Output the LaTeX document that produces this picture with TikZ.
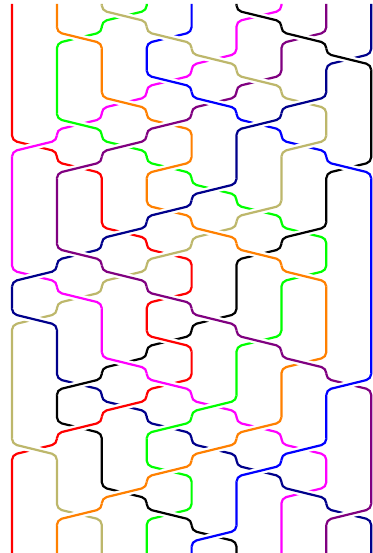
\documentclass[tikz,border=0pt]{standalone}

\definecolor{braidorange}{RGB}{255,128,0}
\definecolor{braidtan}{RGB}{189,183,107}
\definecolor{braidgreen}{RGB}{0,255,0}
\definecolor{braidmagenta}{RGB}{255,0,255}
\definecolor{braidpurple}{RGB}{128,0,128}
\definecolor{braidnavy}{RGB}{0,0,139}

\tikzset{strand/.style={line width=2.2pt, rounded corners=5pt}}

% one strand: colour, column, crossings level/from/to
\newcommand{\strandpath}[3]{%
  \draw[strand,#1] ({12+44.9*#2},4)
    \foreach \k/\a/\b in {#3}{ -- ({12+44.9*\a},{21.67*\k+10.5}) -- ({12+44.9*\b},{21.67*\k+21.5}) }
    -- ({12+44.9*#2},556);
}

\begin{document}
\begin{tikzpicture}[x=1pt,y=-1pt]
	\useasboundingbox (0,0) rectangle (372,553);

	% strands
	\strandpath{red}{0}{6/0/1,7/1/2,10/2/3,11/3/4,13/4/3,15/3/4,17/4/3,18/3/2,19/2/1,20/1/0}
	\strandpath{braidorange}{1}{1/1/2,4/2/3,5/3/4,7/4/3,9/3/4,10/4/5,11/5/6,12/6/7,16/7/6,19/6/5,20/5/4,21/4/3,22/3/2,23/2/1}
	\strandpath{braidtan}{2}{0/2/3,1/3/4,2/4/5,3/5/6,4/6/7,6/7/6,9/6/5,10/5/4,11/4/3,12/3/2,13/2/1,14/1/0,20/0/1,23/1/2}
	\strandpath{braidgreen}{3}{0/3/2,1/2/1,5/1/2,6/2/3,7/3/4,8/4/5,9/5/6,10/6/7,12/7/6,15/6/5,18/5/4,19/4/3,21/3/4,23/4/3}
	\strandpath{blue}{4}{1/4/3,3/3/4,4/4/5,5/5/6,6/6/7,7/7/8,17/8/7,20/7/6,21/6/5,24/5/4}
	\strandpath{black}{5}{0/5/6,1/6/7,2/7/8,7/8/7,10/7/6,11/6/5,14/5/4,15/4/3,16/3/2,17/2/1,19/1/2,22/2/3,23/3/4,24/4/5}
	\strandpath{braidmagenta}{6}{0/6/5,2/5/4,3/4/3,4/3/2,5/2/1,6/1/0,12/0/1,13/1/2,16/2/3,17/3/4,18/4/5,19/5/6,20/6/7,22/7/6}
	\strandpath{braidpurple}{7}{1/7/6,3/6/5,4/5/4,5/4/3,6/3/2,7/2/1,11/1/2,12/2/3,13/3/4,14/4/5,15/5/6,16/6/7,17/7/8,23/8/7}
	\strandpath{braidnavy}{8}{2/8/7,4/7/6,5/6/5,8/5/4,9/4/3,10/3/2,11/2/1,12/1/0,14/0/1,17/1/2,18/2/3,19/3/4,20/4/5,21/5/6,22/6/7,23/7/8}

	% over strands at the crossings
	\foreach \k/\a/\b/\c in {0/2/3/braidtan,0/5/6/black,
		1/1/2/braidorange,1/3/4/braidtan,1/6/7/black,
		2/4/5/braidtan,2/7/8/black,
		3/3/4/blue,3/5/6/braidtan,
		4/2/3/braidorange,4/4/5/blue,4/7/6/braidnavy,
		5/1/2/braidgreen,5/4/3/braidpurple,5/6/5/braidnavy,
		6/1/0/braidmagenta,6/3/2/braidpurple,6/7/6/braidtan,
		7/2/1/braidpurple,7/4/3/braidorange,7/7/8/blue,
		8/5/4/braidnavy,
		9/4/3/braidnavy,9/6/5/braidtan,
		10/3/2/braidnavy,10/4/5/braidorange,10/7/6/black,
		11/1/2/braidpurple,11/4/3/braidtan,11/5/6/braidorange,
		12/1/0/braidnavy,12/2/3/braidpurple,12/6/7/braidorange,
		13/1/2/braidmagenta,13/3/4/braidpurple,
		14/0/1/braidnavy,14/4/5/braidpurple,
		15/3/4/red,15/5/6/braidpurple,
		16/2/3/braidmagenta,16/6/7/braidpurple,
		17/2/1/black,17/3/4/braidmagenta,17/8/7/blue,
		18/3/2/red,18/5/4/braidgreen,
		19/2/1/red,19/4/3/braidgreen,19/6/5/braidorange,
		20/0/1/braidtan,20/5/4/braidorange,20/7/6/blue,
		21/4/3/braidorange,21/6/5/blue,
		22/3/2/braidorange,22/6/7/braidnavy,
		23/2/1/braidorange,23/3/4/black,23/8/7/braidpurple,
		24/5/4/blue}{
		\draw[strand,white,line width=7pt] ({12+44.9*\a},{21.67*\k+5.5}) -- ({12+44.9*\a},{21.67*\k+10.5})
			-- ({12+44.9*\b},{21.67*\k+21.5}) -- ({12+44.9*\b},{21.67*\k+26.5});
		\draw[strand,\c] ({12+44.9*\a},{21.67*\k+5.5}) -- ({12+44.9*\a},{21.67*\k+10.5})
			-- ({12+44.9*\b},{21.67*\k+21.5}) -- ({12+44.9*\b},{21.67*\k+26.5});
	}
\end{tikzpicture}
\end{document}
